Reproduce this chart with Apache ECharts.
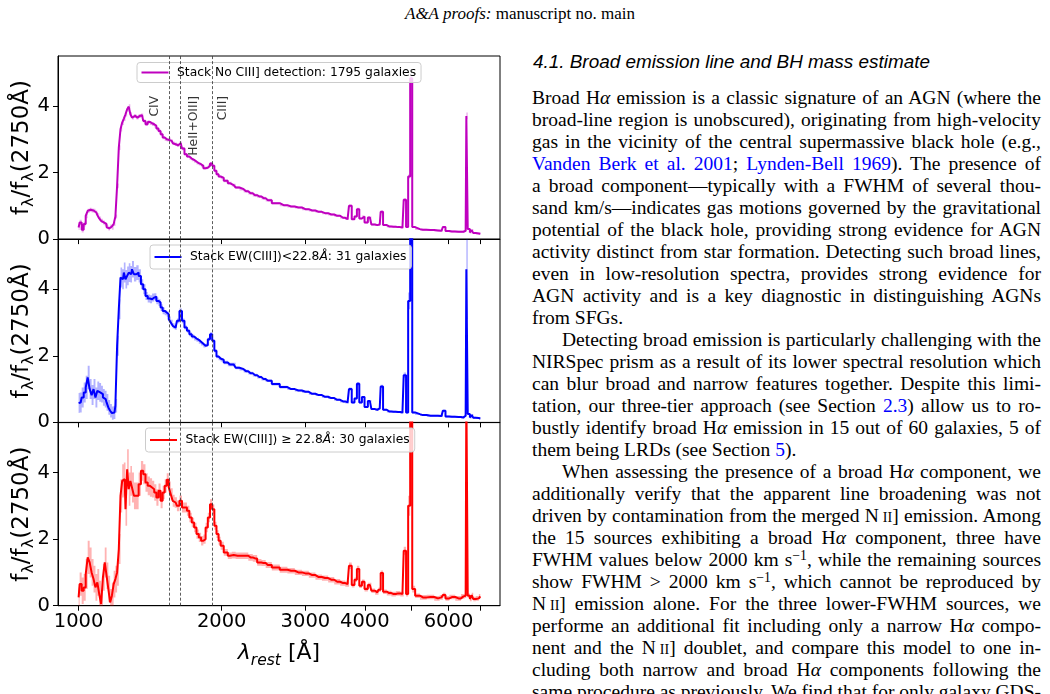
<!DOCTYPE html>
<html><head><meta charset="utf-8">
<script src="https://cdn.jsdelivr.net/npm/echarts@6.0.0/dist/echarts.min.js"></script>
<style>
html,body{margin:0;padding:0;background:#fff;width:1050px;height:694px;overflow:hidden;}
#chart{position:absolute;left:0;top:0;width:520px;height:694px;}
#hdr{position:absolute;left:0;width:1040px;top:3px;text-align:center;font-family:'Liberation Serif',serif;font-size:17px;line-height:22px;color:#000;}
#h41{position:absolute;left:533px;top:51px;font-family:'Liberation Sans',sans-serif;font-style:italic;font-size:18.9px;line-height:22px;color:#000;white-space:nowrap;}
#col{position:absolute;left:532px;top:87px;width:509px;font-family:'Liberation Serif',serif;font-size:19.5px;line-height:22px;color:#000;}
.ln{height:22px;white-space:nowrap;}
.ln>span{display:inline-block;white-space:nowrap;}
.ind{padding-left:30px;}
a{color:#0000ff;text-decoration:none;}
sup{font-size:0.7em;line-height:0;vertical-align:0.45em;}
.sc{font-variant:small-caps;}
</style></head>
<body>
<div id="hdr"><i>A&amp;A proofs:</i> manuscript no. main</div>
<div id="chart"></div>
<div id="h41">4.1. Broad emission line and BH mass estimate</div>
<div id="col">
<div class="ln j"><span>Broad H<i>α</i> emission is a classic signature of an AGN (where the</span></div>
<div class="ln j"><span>broad-line region is unobscured), originating from high-velocity</span></div>
<div class="ln j"><span>gas in the vicinity of the central supermassive black hole (e.g.,</span></div>
<div class="ln j"><span><a>Vanden Berk et al. 2001</a>; <a>Lynden-Bell 1969</a>). The presence of</span></div>
<div class="ln j"><span>a broad component—typically with a FWHM of several thou-</span></div>
<div class="ln j"><span>sand km/s—indicates gas motions governed by the gravitational</span></div>
<div class="ln j"><span>potential of the black hole, providing strong evidence for AGN</span></div>
<div class="ln j"><span>activity distinct from star formation. Detecting such broad lines,</span></div>
<div class="ln j"><span>even in low-resolution spectra, provides strong evidence for</span></div>
<div class="ln j"><span>AGN activity and is a key diagnostic in distinguishing AGNs</span></div>
<div class="ln"><span>from SFGs.</span></div>
<div class="ln j ind"><span>Detecting broad emission is particularly challenging with the</span></div>
<div class="ln j"><span>NIRSpec prism as a result of its lower spectral resolution which</span></div>
<div class="ln j"><span>can blur broad and narrow features together. Despite this limi-</span></div>
<div class="ln j"><span>tation, our three-tier approach (see Section <a>2.3</a>) allow us to ro-</span></div>
<div class="ln j"><span>bustly identify broad H<i>α</i> emission in 15 out of 60 galaxies, 5 of</span></div>
<div class="ln"><span>them being LRDs (see Section <a>5</a>).</span></div>
<div class="ln j ind"><span>When assessing the presence of a broad H<i>α</i> component, we</span></div>
<div class="ln j"><span>additionally verify that the apparent line broadening was not</span></div>
<div class="ln j"><span>driven by contamination from the merged N&#8201;<span class="sc">ii</span>] emission. Among</span></div>
<div class="ln j"><span>the 15 sources exhibiting a broad H<i>α</i> component, three have</span></div>
<div class="ln j"><span>FWHM values below 2000 km s<sup>−1</sup>, while the remaining sources</span></div>
<div class="ln j"><span>show FWHM &gt; 2000 km s<sup>−1</sup>, which cannot be reproduced by</span></div>
<div class="ln j"><span>N&#8201;<span class="sc">ii</span>] emission alone. For the three lower-FWHM sources, we</span></div>
<div class="ln j"><span>performe an additional fit including only a narrow H<i>α</i> compo-</span></div>
<div class="ln j"><span>nent and the N&#8201;<span class="sc">ii</span>] doublet, and compare this model to one in-</span></div>
<div class="ln j"><span>cluding both narrow and broad H<i>α</i> components following the</span></div>
<div class="ln j"><span>same procedure as previously. We find that for only galaxy GDS-</span></div>
</div>
<script>
// ---------------- data ----------------
const wave = [
1000,1010,1020,1030,1040,1050,1060,1070,1080,1090,
1100,1110,1120,1130,1140,1150,1160,1170,1180,1190,
1200,1210,1220,1230,1240,1250,1260,1270,1280,1290,
1300,1315,1330,1345,1360,1375,1390,1405,1420,1435,
1450,1465,1480,1495,1510,1525,1540,1555,1570,1585,
1600,1620,1640,1660,1680,1700,1720,1740,1760,1780,
1800,1820,1840,1860,1880,1900,1920,1940,1960,1980,
2000,2040,2080,2120,2160,2200,2250,2300,2350,2400,
2450,2500,2600,2700,2800,2900,3000,3100,3200,3300,
3400,3500,3600,3680,3730,3780,3830,3870,3920,3970,
4020,4100,4160,4250,4300,4340,4400,4500,4600,4700,
4800,4860,4910,4960,5007,5060,5150,5300,5500,5700,
5800,5876,5950,6100,6300,6450,6520,6563,6610,6700,
6730,6800,6900,7000];

const fluxNoCIII = [
0.35,0.50,0.28,0.45,0.70,0.85,0.88,0.86,0.85,0.80,
0.72,0.62,0.55,0.50,0.45,0.36,0.32,0.38,0.34,0.45,
0.68,1.60,2.75,3.30,3.50,3.62,3.75,3.90,3.98,3.75,
3.65,3.70,3.65,3.70,3.72,3.55,3.45,3.52,3.48,3.45,
3.40,3.32,3.25,3.15,3.05,3.00,2.98,3.00,2.95,2.88,
2.85,2.82,2.88,2.72,2.55,2.48,2.42,2.38,2.33,2.28,
2.25,2.20,2.13,2.14,2.20,2.27,2.20,2.05,1.95,1.88,
1.84,1.75,1.68,1.62,1.55,1.50,1.44,1.38,1.32,1.28,
1.23,1.17,1.08,1.02,0.98,0.95,0.90,0.86,0.82,0.78,
0.74,0.70,0.64,0.60,1.00,0.60,0.68,0.90,0.62,0.68,
0.50,0.65,0.44,0.42,0.44,0.82,0.42,0.38,0.37,0.36,
0.35,1.18,0.36,1.88,4.83,0.36,0.30,0.28,0.27,0.26,
0.25,0.36,0.24,0.23,0.22,0.22,0.25,3.70,0.30,0.20,
0.27,0.18,0.17,0.16];
const errNoCIII = [
0.08,0.08,0.08,0.07,0.07,0.06,0.06,0.06,0.06,0.06,
0.06,0.06,0.06,0.06,0.06,0.06,0.06,0.06,0.06,0.06,
0.06,0.07,0.07,0.07,0.07,0.07,0.07,0.07,0.07,0.06,
0.06,0.06,0.06,0.06,0.05,0.05,0.05,0.05,0.05,0.05,
0.05,0.05,0.05,0.05,0.05,0.05,0.05,0.05,0.05,0.05,
0.05,0.05,0.05,0.05,0.04,0.04,0.04,0.04,0.04,0.04,
0.04,0.04,0.04,0.04,0.04,0.04,0.04,0.04,0.04,0.04,
0.04,0.04,0.04,0.04,0.04,0.04,0.04,0.04,0.04,0.04,
0.04,0.04,0.03,0.03,0.03,0.03,0.03,0.03,0.03,0.03,
0.03,0.03,0.03,0.03,0.04,0.03,0.03,0.04,0.03,0.03,
0.03,0.03,0.03,0.03,0.03,0.04,0.03,0.03,0.03,0.03,
0.03,0.05,0.03,0.06,0.10,0.03,0.03,0.03,0.03,0.03,
0.03,0.03,0.03,0.03,0.03,0.03,0.03,0.10,0.03,0.03,
0.03,0.03,0.03,0.03];

const fluxLowEW = [
0.58,0.60,0.75,0.90,1.05,1.35,1.00,0.82,1.00,0.75,
0.95,0.90,0.85,0.75,0.70,0.60,0.45,0.35,0.28,0.30,
0.50,2.30,3.40,4.35,4.30,4.50,4.30,4.40,4.50,4.45,
4.60,4.45,4.50,4.40,4.15,4.00,3.80,3.72,3.70,3.75,
3.78,3.65,3.60,3.45,3.35,3.30,3.25,3.10,3.00,2.90,
2.85,3.05,3.35,3.05,2.85,2.75,2.65,2.58,2.52,2.48,
2.42,2.36,2.30,2.32,2.50,2.65,2.45,2.15,1.98,1.92,
1.88,1.80,1.74,1.74,1.64,1.60,1.54,1.48,1.42,1.36,
1.30,1.25,1.15,1.06,1.00,0.96,0.92,0.86,0.82,0.77,
0.73,0.68,0.63,0.60,1.00,0.60,0.72,1.16,0.60,0.76,
0.46,0.64,0.40,0.38,0.42,1.08,0.38,0.33,0.32,0.31,
0.30,1.42,0.30,3.65,6.20,0.30,0.25,0.22,0.20,0.20,
0.19,0.35,0.18,0.17,0.16,0.15,0.20,4.60,0.25,0.15,
0.22,0.14,0.13,0.12];
const errLowEW = [
0.30,0.30,0.30,0.30,0.35,0.35,0.30,0.30,0.30,0.30,
0.28,0.28,0.25,0.25,0.25,0.25,0.22,0.20,0.20,0.20,
0.20,0.30,0.30,0.30,0.30,0.30,0.28,0.28,0.28,0.25,
0.25,0.22,0.22,0.20,0.15,0.15,0.12,0.12,0.12,0.12,
0.10,0.10,0.10,0.10,0.10,0.08,0.08,0.08,0.08,0.08,
0.07,0.07,0.07,0.07,0.06,0.06,0.06,0.06,0.06,0.06,
0.06,0.05,0.05,0.05,0.05,0.06,0.05,0.05,0.05,0.05,
0.05,0.05,0.05,0.05,0.04,0.04,0.04,0.04,0.04,0.04,
0.04,0.04,0.04,0.04,0.03,0.03,0.03,0.03,0.03,0.03,
0.03,0.03,0.03,0.03,0.05,0.03,0.03,0.05,0.03,0.03,
0.03,0.03,0.03,0.03,0.03,0.05,0.03,0.03,0.03,0.03,
0.03,0.08,0.03,0.25,0.80,0.03,0.03,0.03,0.03,0.03,
0.03,0.03,0.03,0.03,0.03,0.03,0.03,1.50,0.03,0.03,
0.03,0.03,0.03,0.03];

const fluxHighEW = [
0.25,0.65,0.45,0.55,0.95,1.45,1.30,1.00,0.80,0.55,
0.70,0.35,0.05,0.85,1.30,0.90,0.50,0.10,0.30,0.65,
0.80,1.00,1.70,3.30,3.75,3.80,2.90,4.10,3.50,3.75,
3.55,3.30,3.30,3.65,4.05,3.95,3.70,3.60,3.55,3.50,
3.40,3.25,3.45,3.15,3.40,3.60,3.78,3.55,3.35,3.15,
3.10,3.00,3.15,2.95,2.95,2.85,2.65,2.50,2.35,2.15,
2.05,1.95,2.00,2.35,2.65,3.05,2.90,2.40,2.15,1.95,
1.80,1.60,1.50,1.52,1.50,1.50,1.50,1.45,1.42,1.30,
1.28,1.22,1.15,1.08,1.05,1.00,0.97,0.92,0.86,0.83,
0.78,0.72,0.68,0.65,1.20,0.62,0.78,1.10,0.60,0.72,
0.50,0.62,0.45,0.40,0.48,0.98,0.42,0.38,0.35,0.37,
0.35,1.65,0.35,3.00,6.50,0.50,0.30,0.25,0.26,0.22,
0.25,0.32,0.22,0.26,0.22,0.28,0.30,6.50,0.30,0.20,
0.32,0.20,0.22,0.28];
const errHighEW = [
0.30,0.35,0.40,0.40,0.45,0.50,0.45,0.40,0.40,0.40,
0.40,0.40,0.40,0.40,0.45,0.40,0.40,0.40,0.40,0.40,
0.40,0.40,0.45,0.50,0.50,0.50,0.50,0.60,0.50,0.45,
0.45,0.40,0.40,0.35,0.30,0.30,0.28,0.28,0.28,0.25,
0.25,0.25,0.22,0.22,0.20,0.20,0.20,0.18,0.18,0.18,
0.16,0.16,0.16,0.15,0.15,0.15,0.14,0.14,0.14,0.14,
0.14,0.14,0.14,0.14,0.14,0.15,0.14,0.12,0.12,0.12,
0.12,0.10,0.10,0.10,0.10,0.10,0.10,0.10,0.10,0.10,
0.09,0.09,0.09,0.09,0.08,0.08,0.08,0.08,0.08,0.08,
0.08,0.08,0.08,0.08,0.10,0.07,0.07,0.10,0.07,0.07,
0.07,0.07,0.07,0.07,0.07,0.08,0.07,0.07,0.07,0.07,
0.07,0.12,0.07,0.30,0.80,0.10,0.07,0.07,0.07,0.07,
0.07,0.07,0.07,0.07,0.07,0.07,0.07,1.00,0.07,0.07,
0.07,0.07,0.07,0.07];

const legendNames = [
  'Stack No CIII] detection: 1795 galaxies',
  'Stack EW(CIII])<22.8Å: 31 galaxies',
  'Stack EW(CIII]) ≥ 22.8Å: 30 galaxies'
];
const xLabelValues = [1000, 2000, 3000, 4000, 6000];
const xTickValues = [1000, 2000, 3000, 4000, 5000, 6000, 7000];
const yTickValues = [0, 2, 4];
const lineMarks = [1549, 1640, 1909];
const lineLabelNames = ['CIV', 'HeII+OIII]', 'CIII]'];
const lineLabelWave = [1449, 1750, 2009];
const lineLabelY = [4.3, 4.3, 4.3];

[fluxNoCIII, errNoCIII, fluxLowEW, errLowEW, fluxHighEW, errHighEW].forEach((a, i) => {
  if (a.length !== wave.length) throw new Error('length mismatch in array ' + i + ': ' + a.length + ' vs ' + wave.length);
});

// ---------------- chart ----------------
const FONT = 'DejaVu Sans';
const panels = [
  {name: legendNames[0], flux: fluxNoCIII, err: errNoCIII, color: '#bf00bf', band: 'rgba(191,0,191,0.3)'},
  {name: legendNames[1], flux: fluxLowEW, err: errLowEW, color: '#0000ff', band: 'rgba(0,0,255,0.3)'},
  {name: legendNames[2], flux: fluxHighEW, err: errHighEW, color: '#ff0000', band: 'rgba(255,0,0,0.3)'}
];
const gridTops = [56, 239.3, 422.6];
const legendPos = [{left: 137, top: 62.5}, {left: 150, top: 245}, {left: 145.5, top: 428}];

// error band: one step-mid polygon per panel, placed through the axes with api.coord
function makeBand(i, p) {
  const lo = p.flux.map((f, k) => f - p.err[k]);
  const hi = p.flux.map((f, k) => f + p.err[k]);
  return {
    type: 'custom', xAxisIndex: i, yAxisIndex: i, silent: true, z: 1,
    data: [[wave[0], p.flux[0]]],
    renderItem: (params, api) => {
      const cs = params.coordSys;
      const clampY = y => Math.min(Math.max(y, cs.y), cs.y + cs.height);
      const n = wave.length;
      const xs = wave.map(w => api.coord([w, 1])[0]);
      const L = k => k === 0 ? xs[0] : (xs[k - 1] + xs[k]) / 2;
      const R = k => k === n - 1 ? xs[n - 1] : (xs[k] + xs[k + 1]) / 2;
      const up = [], dn = [];
      for (let k = 0; k < n; k++) {
        const yh = clampY(api.coord([wave[k], hi[k]])[1]);
        const yl = clampY(api.coord([wave[k], lo[k]])[1]);
        up.push([L(k), yh], [R(k), yh]);
        dn.push([L(k), yl], [R(k), yl]);
      }
      return {type: 'polygon', shape: {points: up.concat(dn.reverse())}, style: {fill: p.band}};
    }
  };
}

const series = [];
panels.forEach((p, i) => {
  series.push(makeBand(i, p));
  series.push({
    type: 'line', name: p.name, xAxisIndex: i, yAxisIndex: i,
    step: 'middle', symbol: 'none', silent: true, z: 3,
    lineStyle: {color: p.color, width: 2},
    itemStyle: {color: p.color},
    data: wave.map((w, k) => [w, p.flux[k]]),
    markLine: {
      silent: true, symbol: ['none', 'none'], label: {show: false},
      lineStyle: {type: [3, 2], width: 0.8, color: '#333'},
      data: lineMarks.map(w => ({xAxis: w}))
    }
  });
});
series.push({
  type: 'scatter', xAxisIndex: 0, yAxisIndex: 0, symbolSize: 0, silent: true, z: 5,
  data: lineLabelNames.map((n, k) => ({name: n, value: [lineLabelWave[k], lineLabelY[k]]})),
  label: {show: true, formatter: '{b}', rotate: 90, position: 'inside', align: 'right',
          verticalAlign: 'middle', fontSize: 12.3, color: '#000', fontFamily: FONT}
});

const option = {
  animation: false,
  textStyle: {fontFamily: FONT},
  grid: gridTops.map(t => ({left: 58, top: t, width: 442, height: 183.1, show: true,
    containLabel: false, outerBoundsMode: 'none',
    borderColor: '#000', borderWidth: 1, backgroundColor: 'transparent'})),
  legend: panels.map((p, i) => ({
    data: [{name: p.name, icon: 'rect'}], left: legendPos[i].left, top: legendPos[i].top, selectedMode: false,
    orient: 'horizontal', itemWidth: 27, itemHeight: 2, padding: i === 0 ? [4, 5, 4, 4.5] : [6, 5, 6, 4.5],
    backgroundColor: 'rgba(255,255,255,0.8)', borderColor: '#cccccc', borderWidth: 1, borderRadius: 3,
    formatter: n => n.replace('Å', '{i|Å}'),
    textStyle: {fontSize: 12.3, color: '#000', fontFamily: FONT, padding: [0, 0, 0, 3.5],
      rich: {i: {fontSize: 12.3, fontStyle: 'italic', color: '#000', fontFamily: FONT}}}
  })),
  xAxis: [0, 1, 2].map(i => ({
    type: 'log', logBase: 10, gridIndex: i, min: 905, max: 7700,
    axisLine: {show: true, onZero: false, lineStyle: {color: '#000', width: 1}},
    axisTick: {show: true, inside: false, length: 5, lineStyle: {color: '#000'}, customValues: xTickValues},
    axisLabel: {show: i === 2, customValues: xLabelValues, fontSize: 19.5, color: '#000',
      fontFamily: FONT, margin: 6, formatter: v => String(Math.round(v))},
    splitLine: {show: false}, minorTick: {show: false},
    name: i === 2 ? '{l|λ}{r|rest} [Å]' : '',
    nameLocation: 'middle', nameGap: 33,
    nameTextStyle: {fontSize: 22, color: '#000', fontFamily: FONT,
      rich: {l: {fontSize: 22, fontStyle: 'italic', color: '#000', fontFamily: FONT},
             r: {fontSize: 15.5, fontStyle: 'italic', color: '#000', fontFamily: FONT, padding: [14, 0, 0, 0]}}}
  })),
  yAxis: [0, 1, 2].map(i => ({
    type: 'value', gridIndex: i, min: 0, max: 5.5,
    axisLine: {show: true, onZero: false, lineStyle: {color: '#000', width: 1}},
    axisTick: {show: true, length: 5, lineStyle: {color: '#000'}, customValues: yTickValues},
    axisLabel: {customValues: yTickValues, fontSize: 19.5, color: '#000', fontFamily: FONT, margin: 8},
    splitLine: {show: false},
    name: 'f{s|λ}/f{s|λ}(2750Å)', nameLocation: 'middle', nameRotate: 90, nameGap: 21,
    nameMoveOverlap: false,
    nameTextStyle: {fontSize: 23, color: '#000', fontFamily: FONT,
      rich: {s: {fontSize: 16, color: '#000', fontFamily: FONT, padding: [14, 0, 0, 0]}}}
  })),
  series: series
};
const chart = echarts.init(document.getElementById('chart'), null, {renderer: 'canvas'});
chart.setOption(option);

// ---------------- justify text lines ----------------
document.querySelectorAll('.ln.j').forEach(el => {
  const sp = el.firstElementChild;
  const pad = parseFloat(getComputedStyle(el).paddingLeft) || 0;
  const avail = el.clientWidth - pad;
  const w = sp.getBoundingClientRect().width;
  const n = (sp.textContent.match(/ /g) || []).length;
  if (n) sp.style.wordSpacing = ((avail - w) / n) + 'px';
});
</script>
</body></html>
